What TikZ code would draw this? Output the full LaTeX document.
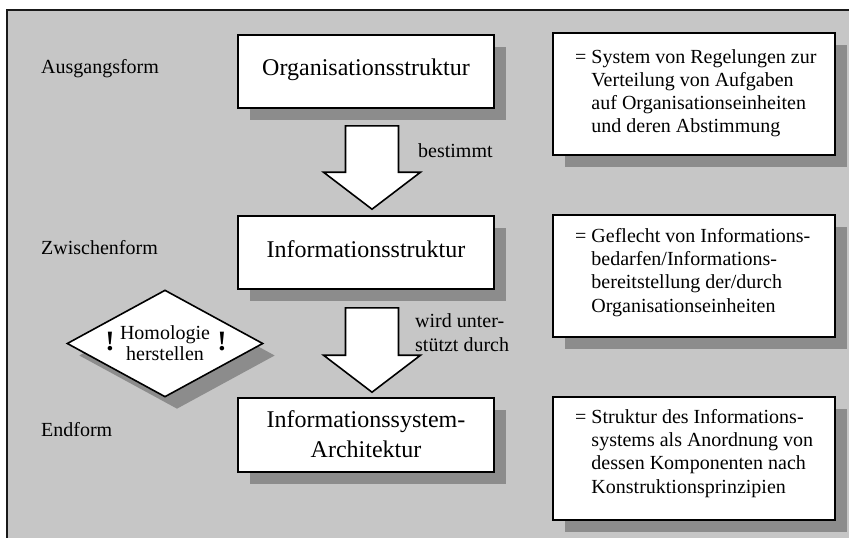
\documentclass[tikz,border=0pt]{standalone}
\usepackage{fontspec}
\setmainfont{Liberation Serif}
\usetikzlibrary{calc,shapes.geometric,shadows}
\definecolor{bggray}{RGB}{198,198,198}
\definecolor{shgray}{RGB}{140,140,140}
\tikzset{
  frameline/.style={line width=1.8pt, draw=black!90},
  boxshadow/.style={drop shadow={shadow xshift=12pt, shadow yshift=-12pt, fill=shgray, opacity=1}},
  mainbox/.style={draw, line width=1.6pt, fill=white, minimum width=256pt, minimum height=73pt, inner sep=0pt, boxshadow},
  defbox/.style={mainbox, minimum width=282pt, minimum height=122pt},
  homdiamond/.style={diamond, draw, line width=1.6pt, fill=white, minimum width=196pt, minimum height=107pt, aspect=1.83, inner sep=0pt, align=center, font=\fontsize{20}{21}\selectfont, boxshadow},
  bigtext/.style={inner sep=0pt, font=\fontsize{24}{30}\selectfont},
  deftext/.style={inner sep=0pt, anchor=north west, align=left, font=\fontsize{20}{23.3}\selectfont},
  lbl/.style={inner sep=0pt, anchor=base west, font=\fontsize{20}{24}\selectfont},
  bang/.style={inner sep=0pt, anchor=base, font=\bfseries\fontsize{28}{28}\selectfont},
  blockarrow/.style={draw, line width=1.6pt, fill=white, line join=miter}
}
\newcommand\blockarrowdraw[2]{%
  \draw[blockarrow] ($(#1)+(-26.5,0)$) -- ($(#1)+(26.5,0)$) -- ($(#2)+(26.5,-37)$) -- ($(#2)+(48.5,-37)$) -- (#2) -- ($(#2)+(-48.5,-37)$) -- ($(#2)+(-26.5,-37)$) -- cycle;}
\begin{document}
\begin{tikzpicture}[x=1pt, y=-1pt]
  \useasboundingbox (0,0) rectangle (849,538);
  \fill[white] (0,0) rectangle (849,538);
  \fill[bggray] (7,10) rectangle (849,538);
  \draw[frameline] (7,538) -- (7,10) -- (849,10);

  % main boxes
  \node[mainbox] (b1) at (366,71.5) {};
  \node[mainbox] (b2) at (366,252.5) {};
  \node[mainbox, minimum height=74pt] (b3) at (366,435) {};
  \node[bigtext, anchor=base] (b1t) at (366,75) {Organisationsstruktur};
  \node[bigtext, anchor=base] (b2t) at (366,257) {Informationsstruktur};
  \node[bigtext, anchor=north, align=center] (b3t) at (366,410.5) {Informationssystem-\\Architektur};

  % definition boxes
  \node[defbox] (r1) at (694,94) {};
  \node[defbox] (r2) at (694,276) {};
  \node[defbox, minimum height=123pt] (r3) at (694,458.5) {};
  \node[deftext] (r1t) at (575,49) {= System von Regelungen zur\\\phantom{= }Verteilung von Aufgaben\\\phantom{= }auf Organisationseinheiten\\\phantom{= }und deren Abstimmung};
  \node[deftext] (r2t) at (575,228) {= Geflecht von Informations-\\\phantom{= }bedarfen/Informations-\\\phantom{= }bereitstellung der/durch\\\phantom{= }Organisationseinheiten};
  \node[deftext] (r3t) at (575,409) {= Struktur des Informations-\\\phantom{= }systems als Anordnung von\\\phantom{= }dessen Komponenten nach\\\phantom{= }Konstruktionsprinzipien};

  % block arrows
  \coordinate (a1s) at ($(b1.south)+(6,17)$);
  \coordinate (a1e) at ($(b2.north)+(6,-6)$);
  \coordinate (a2s) at ($(b2.south)+(6,18)$);
  \coordinate (a2e) at ($(b3.north)+(6,-5)$);
  \blockarrowdraw{a1s}{a1e}
  \blockarrowdraw{a2s}{a2e}

  % diamond
  \node[homdiamond] (hom) at (165,343.5) {Homologie\\herstellen};
  \node[bang] (bang1) at (110,350) {!};
  \node[bang] (bang2) at (222,350) {!};

  % side labels
  \node[lbl] (l1) at (41,73) {Ausgangsform};
  \node[lbl] (l2) at (41,254) {Zwischenform};
  \node[lbl] (l3) at (41,436) {Endform};
  \node[lbl] (t1) at (418,157) {bestimmt};
  \node[lbl, anchor=north west, align=left] (t2) at (415,313.5) {wird unter-\\stützt durch};
\end{tikzpicture}
\end{document}
